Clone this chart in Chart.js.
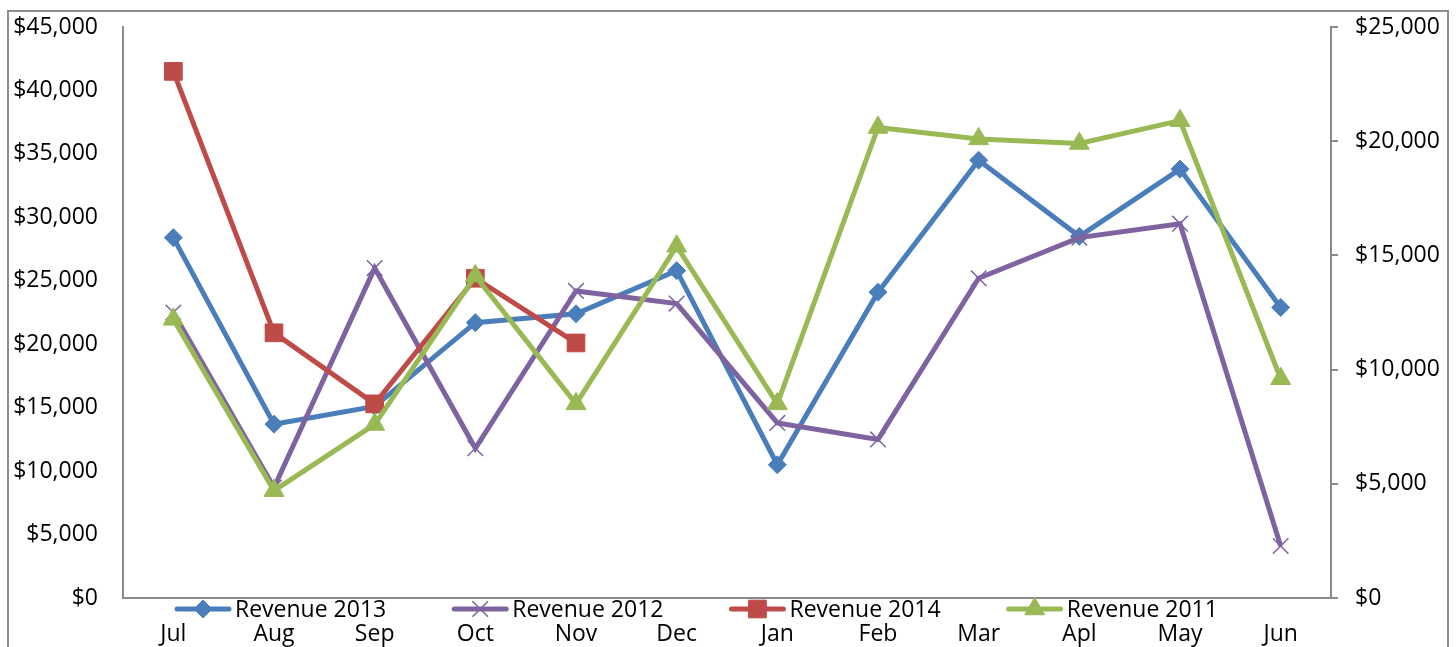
<!DOCTYPE html>
<html>
<head>
<meta charset="utf-8">
<script src="https://cdn.jsdelivr.net/npm/chart.js@4"></script>
<style>
  html, body { margin: 0; padding: 0; background: #fff; }
  #wrap { width: 1456px; height: 647px; }
</style>
</head>
<body>
<div id="wrap"><canvas id="revenue-chart"></canvas></div>
<script>

// months as shown on the axis (fiscal year Jul -> Jun)
const months = ['Jul', 'Aug', 'Sep', 'Oct', 'Nov', 'Dec', 'Jan', 'Feb', 'Mar', 'Apl', 'May', 'Jun'];

// values
const revenue2013 = [28400, 13700, 15100, 21700, 22400, 25800, 10500, 24100, 34500, 28500, 33800, 22900];
const revenue2012 = [22500, 8700, 26000, 11800, 24200, 23200, 13800, 12500, 25200, 28400, 29500, 4100];
const revenue2014 = [41500, 20900, 15300, 25200, 20100, null, null, null, null, null, null, null];
const revenue2011 = [12200, 4700, 7600, 14100, 8500, 15400, 8500, 20600, 20100, 19900, 20900, 9600]; // right axis

const leftTicks = { max: 45000, step: 5000 };
const rightTicks = { max: 25000, step: 5000 };

const FONT = { family: "'Open Sans', sans-serif", size: 23 };
const AXIS_GREY = '#8a8a8a';

function dollars(v) {
    return '$' + v.toLocaleString('en-US');
}

// outer frame of the chart object
const framePlugin = {
    id: 'frame',
    beforeDraw(chart) {
        const ctx = chart.ctx;
        ctx.save();
        ctx.strokeStyle = '#8c8c8c';
        ctx.lineWidth = 2;
        ctx.strokeRect(8, 11, 1440, 700);
        ctx.restore();
    }
};

// legend sits between the axis line and the month labels, like the excel one
const inlineLegend = {
    id: 'inlineLegend',
    afterDraw(chart) {
        const ctx = chart.ctx;
        const y = 609;
        let x = 175;
        ctx.save();
        ctx.font = FONT.size + 'px ' + FONT.family;
        ctx.textBaseline = 'middle';
        ctx.textAlign = 'left';
        chart.data.datasets.forEach(ds => {
            ctx.strokeStyle = ds.borderColor;
            ctx.lineWidth = 5;
            ctx.lineCap = 'round';
            ctx.beginPath();
            ctx.moveTo(x + 2, y);
            ctx.lineTo(x + 54, y);
            ctx.stroke();
            ctx.lineCap = 'butt';
            ctx.fillStyle = ds.pointBackgroundColor;
            ctx.strokeStyle = ds.pointBorderColor;
            ctx.lineWidth = ds.pointBorderWidth;
            Chart.helpers.drawPoint(ctx, {
                pointStyle: ds.pointStyle,
                radius: ds.pointRadius,
                rotation: 0,
                borderWidth: ds.pointBorderWidth
            }, x + 28, y);
            ctx.fillStyle = '#000';
            ctx.fillText(ds.label, x + 60, y + 1);
            x += 60 + ctx.measureText(ds.label).width + 66;
        });
        ctx.restore();
    }
};

// value axes: fixed width, and no extra room for the half label at the top
function fixValueAxis(width) {
    return function (scale) {
        scale.width = width;
        scale.paddingTop = 0;
        scale.paddingBottom = 0;
    };
}

const ctx = document.getElementById('revenue-chart');

new Chart(ctx, {
    type: 'line',
    data: {
        labels: months,
        datasets: [
            {
                label: 'Revenue 2013',
                data: revenue2013,
                yAxisID: 'y',
                borderColor: '#4a7ebb',
                borderWidth: 5,
                pointStyle: 'rectRot',
                pointRadius: 9,
                pointBackgroundColor: '#4a7ebb',
                pointBorderColor: '#4a7ebb',
                pointBorderWidth: 1,
                order: 4
            },
            {
                label: 'Revenue 2012',
                data: revenue2012,
                yAxisID: 'y',
                borderColor: '#7f63a1',
                borderWidth: 5,
                pointStyle: 'crossRot',
                pointRadius: 11,
                pointBackgroundColor: '#7f63a1',
                pointBorderColor: '#7f63a1',
                pointBorderWidth: 1.5,
                order: 3
            },
            {
                label: 'Revenue 2014',
                data: revenue2014,
                yAxisID: 'y',
                borderColor: '#be4b48',
                borderWidth: 5,
                pointStyle: 'rect',
                pointRadius: 12.5,
                pointBackgroundColor: '#be4b48',
                pointBorderColor: '#be4b48',
                pointBorderWidth: 1,
                spanGaps: false,
                order: 2
            },
            {
                label: 'Revenue 2011',
                data: revenue2011,
                yAxisID: 'y1',
                borderColor: '#98b954',
                borderWidth: 5,
                pointStyle: 'triangle',
                pointRadius: 11.5,
                pointBackgroundColor: '#98b954',
                pointBorderColor: '#98b954',
                pointBorderWidth: 1,
                order: 1
            }
        ]
    },
    options: {
        responsive: true,
        maintainAspectRatio: false,
        animation: false,
        layout: { padding: { top: 27, left: 0, right: 0, bottom: 0 } },
        elements: { line: { tension: 0 } },
        plugins: {
            legend: { display: false },
            tooltip: { enabled: false }
        },
        scales: {
            x: {
                offset: true,
                grid: { display: false, drawTicks: false },
                border: { display: true, color: AXIS_GREY, width: 2 },
                ticks: { color: '#000', font: FONT, padding: 23, maxRotation: 0, autoSkip: false },
                afterFit(scale) {
                    scale.height = 49;
                    scale.paddingLeft = 0;
                    scale.paddingRight = 0;
                }
            },
            y: {
                position: 'left',
                min: 0,
                max: leftTicks.max,
                grid: { display: false, drawTicks: false },
                border: { display: true, color: AXIS_GREY, width: 2 },
                ticks: {
                    stepSize: leftTicks.step,
                    color: '#000',
                    font: FONT,
                    padding: 25,
                    callback: v => dollars(v)
                },
                afterFit: fixValueAxis(123)
            },
            y1: {
                position: 'right',
                min: 0,
                max: rightTicks.max,
                grid: { display: true, drawOnChartArea: false, drawTicks: true, tickLength: 7, color: AXIS_GREY, lineWidth: 2 },
                border: { display: true, color: AXIS_GREY, width: 2 },
                ticks: {
                    stepSize: rightTicks.step,
                    color: '#000',
                    font: FONT,
                    padding: 17,
                    callback: v => dollars(v)
                },
                afterFit: fixValueAxis(125)
            }
        }
    },
    plugins: [framePlugin, inlineLegend]
});
</script>
</body>
</html>
